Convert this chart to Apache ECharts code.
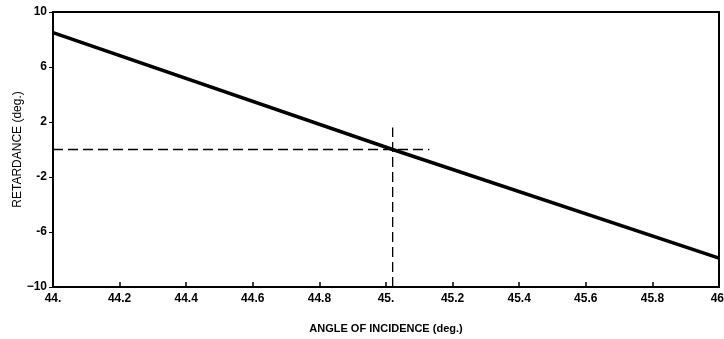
<!DOCTYPE html>
<html><head><meta charset="utf-8">
<script src="https://cdn.jsdelivr.net/npm/echarts@6/dist/echarts.min.js"></script>
<style>html,body{margin:0;padding:0;background:#fff}#c{width:724px;height:339px}</style>
</head><body><div id="c"></div>
<script>
var angle = [44.0, 45.02, 46.0];
var retardance = [8.5, 0.0, -7.9];
var hGuideX = [44.0, 45.13];
var hGuideY = [0, 0];
var vGuideX = [45.02, 45.02];
var vGuideY = [-10, 1.6];
var xTicks = {44: '44.', 44.2: '44.2', 44.4: '44.4', 44.6: '44.6', 44.8: '44.8', 45: '45.', 45.2: '45.2', 45.4: '45.4', 45.6: '45.6', 45.8: '45.8', 46: '46.'};
var yTicks = {10: '10', 6: '6', 2: '2', '-2': '-2', '-6': '-6', '-10': '\u221210'};

var chart = echarts.init(document.getElementById('c'));
var lblFont = {fontFamily: 'Liberation Sans, Arial', fontWeight: 'bold', fontSize: 12, color: '#000'};
chart.setOption({
  animation: false,
  grid: {left: 53, right: 5, top: 12, bottom: 52, show: true, borderColor: '#000', borderWidth: 2, containLabel: false, outerBoundsMode: 'none'},
  xAxis: {
    type: 'value', min: 44, max: 46, interval: 0.2,
    axisLine: {show: true, onZero: false, lineStyle: {color: '#000', width: 2}},
    axisTick: {show: true, inside: true, length: 5, lineStyle: {color: '#000', width: 1.5}},
    splitLine: {show: false},
    axisLabel: Object.assign({margin: 6, formatter: function (v) { var k = Math.round(v * 10) / 10; return xTicks[k] !== undefined ? xTicks[k] : ''; }}, lblFont),
    name: 'ANGLE OF INCIDENCE (deg.)', nameLocation: 'middle', nameGap: 36, nameMoveOverlap: false,
    nameTextStyle: {fontFamily: 'Liberation Sans, Arial', fontWeight: 'bold', fontSize: 11, color: '#000'}
  },
  yAxis: {
    type: 'value', min: -10, max: 10, interval: 4,
    axisLine: {show: true, onZero: false, lineStyle: {color: '#000', width: 2}},
    axisTick: {show: true, inside: false, length: 4, lineStyle: {color: '#000', width: 1}},
    splitLine: {show: false},
    axisLabel: Object.assign({margin: 6, formatter: function (v) { return yTicks[Math.round(v)] !== undefined ? yTicks[Math.round(v)] : ''; }}, lblFont),
    name: 'RETARDANCE (deg.)', nameLocation: 'middle', nameGap: 35, nameMoveOverlap: false, nameRotate: 90,
    nameTextStyle: {fontFamily: 'Liberation Sans, Arial', fontSize: 12, color: '#000', verticalAlign: 'middle', padding: [0, 0, 0, 0]}
  },
  series: [
    {type: 'line', data: angle.map(function (a, i) { return [a, retardance[i]]; }), symbol: 'none', lineStyle: {color: '#000', width: 3.5}, z: 5},
    {type: 'line', data: hGuideX.map(function (a, i) { return [a, hGuideY[i]]; }), symbol: 'none', lineStyle: {color: '#000', width: 1.3, type: [10, 5]}},
    {type: 'line', data: vGuideX.map(function (a, i) { return [a, vGuideY[i]]; }), symbol: 'none', lineStyle: {color: '#000', width: 1.3, type: [10, 5]}}
  ]
});
</script></body></html>
